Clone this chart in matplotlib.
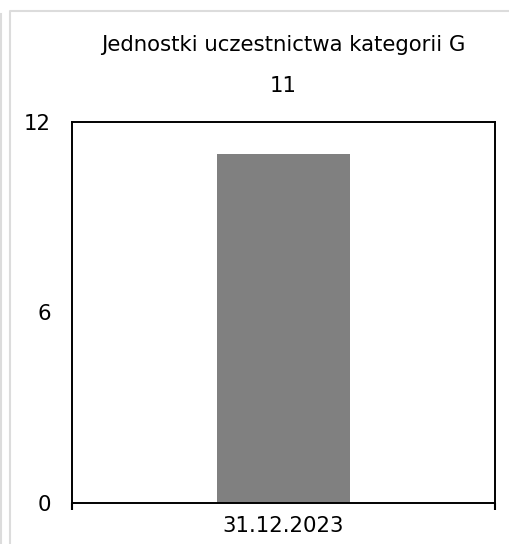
import matplotlib
matplotlib.use('Agg')
from matplotlib import pyplot as plt
from matplotlib.lines import Line2D

title = 'Jednostki uczestnictwa kategorii G'
categories = ['31.12.2023']
values = [11]
y_ticks = [0, 6, 12]

plt.rcParams['font.family'] = ['DejaVu Sans']
fs = 15.3

fig = plt.figure(figsize=(5.1, 5.44), dpi=100)
ax = fig.add_axes([72 / 510, 1 - 503 / 544, 423 / 510, 381 / 544])

x = list(range(len(categories)))
ax.bar(x, values, width=0.315, color='#808080', zorder=2)
ax.set_xlim(-0.5, len(categories) - 0.5)
ax.set_ylim(0, 12)
ax.set_yticks(y_ticks)
ax.set_xticks(x)
ax.set_xticklabels(categories)
ax.set_xticks([i - 0.5 for i in range(len(categories) + 1)], minor=True)
ax.tick_params(axis='y', length=0, pad=15, labelsize=fs)
ax.tick_params(axis='x', which='major', length=0, pad=9, labelsize=fs)
ax.tick_params(axis='x', which='minor', length=5, width=1.5, direction='out')
for sp in ax.spines.values():
    sp.set_linewidth(1.4)
    sp.set_color('black')

# value label above the plot area
for xi, v in zip(x, values):
    ax.text(xi, 1.095, str(v), transform=ax.get_xaxis_transform(),
            ha='center', va='center', fontsize=fs)

fig.text(ax.get_position().x0 + ax.get_position().width / 2, 1 - 45 / 544, title,
         ha='center', va='center', fontsize=fs)

# panel frame
fig.add_artist(Line2D([1.5 / 510, 1.5 / 510], [0, 1 - 14 / 544],
                      color='#dcdcdc', linewidth=1.5))
fig.add_artist(Line2D([10 / 510, 10 / 510, 1], [0, 1 - 10.5 / 544, 1 - 10.5 / 544],
                      color='#dcdcdc', linewidth=1.5))

fig.savefig('out.png', dpi=100)
